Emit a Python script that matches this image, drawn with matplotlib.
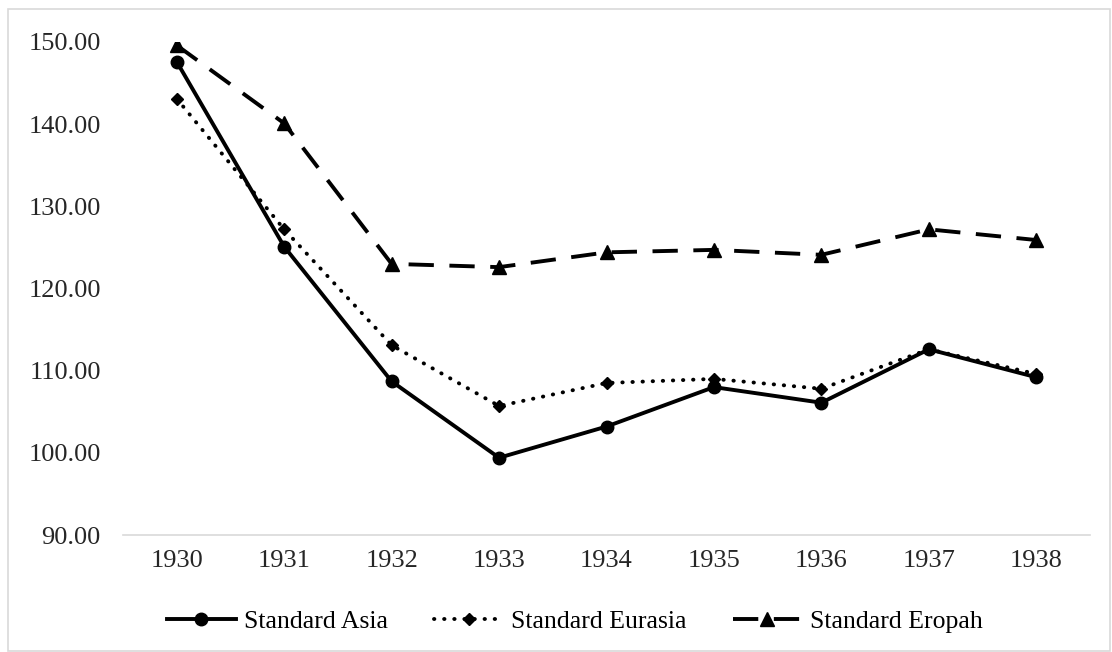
import matplotlib.pyplot as plt
from matplotlib.patches import Rectangle

plt.rcParams['font.family'] = ['Liberation Serif', 'DejaVu Serif']

years = ["1930", "1931", "1932", "1933", "1934", "1935", "1936", "1937", "1938"]
asia = [147.6, 125.1, 108.7, 99.4, 103.2, 108.0, 106.1, 112.6, 109.2]
eurasia = [143.1, 127.2, 113.1, 105.7, 108.5, 109.0, 107.8, 112.6, 109.6]
europah = [149.6, 140.1, 123.0, 122.6, 124.4, 124.7, 124.1, 127.2, 125.9]
yticks = [90, 100, 110, 120, 130, 140, 150]

fig = plt.figure(figsize=(11.12, 6.52), dpi=100)
ax = fig.add_axes([123 / 1112, 1 - 535 / 652, 967 / 1112, 493 / 652])

x = list(range(len(years)))
ax.plot(x, asia, color="black", linestyle="-", linewidth=2.8, marker="o",
        markersize=9, label="Standard Asia")
ax.plot(x, eurasia, color="black", linestyle=(0, (0.1, 2.5)), linewidth=2.8,
        dash_capstyle="round", marker="D", markersize=6.5, label="Standard Eurasia")
ax.plot(x, europah, color="black", linestyle=(0, (6.5, 4)), linewidth=2.8,
        marker="^", markersize=10, label="Standard Eropah")

ax.set_xlim(-0.5, len(years) - 0.5)
ax.set_ylim(90, 150)
ax.set_xticks(x)
ax.set_xticklabels(years)
ax.set_yticks(yticks)
ax.set_yticklabels([f"{v:.2f}" for v in yticks])
ax.tick_params(axis="both", length=0, labelsize=19, colors="#262626")
ax.tick_params(axis="x", pad=11)
ax.tick_params(axis="y", pad=16)
for side in ["top", "right", "left"]:
    ax.spines[side].set_visible(False)
ax.spines["bottom"].set_color("#d9d9d9")
ax.spines["bottom"].set_linewidth(1.2)

ax.legend(loc="center", bbox_to_anchor=(0.467, -0.175), ncol=3, frameon=False,
          fontsize=18.5, handlelength=2.7, columnspacing=1.8, handletextpad=0.3)

fig.patches.append(Rectangle((8 / 1112, 0.002), 1 - 10 / 1112, 1 - 10 / 652,
                             transform=fig.transFigure, fill=False,
                             edgecolor="#d9d9d9", linewidth=1.2))

fig.savefig("out.png", dpi=100)
